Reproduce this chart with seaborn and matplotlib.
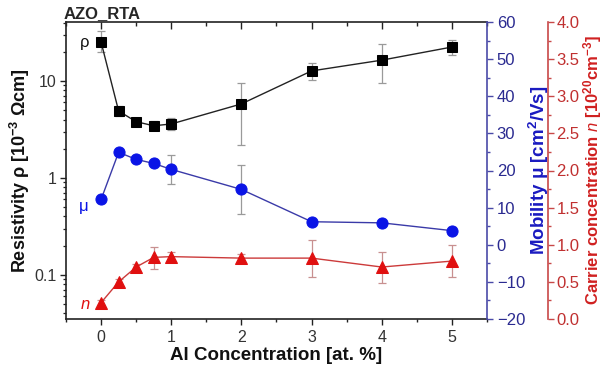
import numpy as np
import pandas as pd
import matplotlib
matplotlib.use("Agg")
import matplotlib.pyplot as plt
import seaborn as sns
from matplotlib.ticker import MultipleLocator, FixedLocator, NullFormatter

al_conc = [0, 0.25, 0.5, 0.75, 1, 2, 3, 4, 5]
resistivity = [25.2, 4.9, 3.8, 3.45, 3.6, 5.8, 12.7, 16.4, 22.4]
res_err_lo = [5.3, 0.5, 0.3, 0.35, 0.5, 3.6, 2.5, 6.9, 3.9]
res_err_hi = [7.5, 0.6, 0.3, 0.4, 0.55, 3.7, 2.6, 7.6, 4.1]
mobility = [12.2, 24.9, 23.0, 21.9, 20.3, 14.9, 6.2, 5.9, 3.8]
mob_err = [0.5, 0.5, 0.5, 0.5, 3.9, 6.5, 0.8, 0.8, 1.0]
carrier = [0.22, 0.50, 0.70, 0.83, 0.84, 0.82, 0.82, 0.70, 0.78]
car_err_lo = [0.03, 0.04, 0.04, 0.15, 0.06, 0.05, 0.25, 0.21, 0.21]
car_err_hi = [0.03, 0.04, 0.04, 0.14, 0.06, 0.05, 0.25, 0.20, 0.22]

sns.set_style("ticks")
plt.rcParams['font.family'] = ['Liberation Sans', 'DejaVu Sans']
plt.rcParams['mathtext.fontset'] = 'custom'
plt.rcParams['mathtext.rm'] = 'Liberation Sans'
plt.rcParams['mathtext.it'] = 'Liberation Sans:italic'
plt.rcParams['mathtext.bf'] = 'Liberation Sans:bold'

df = pd.DataFrame({"x": al_conc, "rho": resistivity, "mu": mobility, "n": carrier})

fig = plt.figure(figsize=(6.08, 3.68), dpi=100)
ax = fig.add_axes([66/608, 1-319/368, (487-66)/608, (319-22)/368])
ax2 = ax.twinx()
ax3 = ax.twinx()

black = "#000000"
blue = "#0a14e6"
blue_line = "#3a3aa8"
blue_axis = "#4a4aa8"
red = "#e01010"
red_line = "#cc3a3a"
red_axis = "#c84848"
errc = "#9a9a9a"

# Resistivity
ax.errorbar(al_conc, resistivity, yerr=[res_err_lo, res_err_hi], fmt='none',
            ecolor=errc, elinewidth=0.9, capsize=3, capthick=0.9, zorder=2)
sns.lineplot(data=df, x="x", y="rho", ax=ax, color="#222222", lw=1.0,
             marker='s', markersize=7.2, markerfacecolor=black, markeredgecolor=black, zorder=3)
ax.set_yscale('log')
ax.set_ylim(0.035, 40.6)
ax.set_xlim(-0.5, 5.5)

# Mobility
ax2.errorbar(al_conc, mobility, yerr=mob_err, fmt='none',
             ecolor=errc, elinewidth=0.9, capsize=3, capthick=0.9, zorder=2)
sns.lineplot(data=df, x="x", y="mu", ax=ax2, color=blue_line, lw=1.0,
             marker='o', markersize=8, markerfacecolor=blue, markeredgecolor=blue, zorder=3)
ax2.set_ylim(-20, 60)

# Carrier concentration
ax3.errorbar(al_conc, carrier, yerr=[car_err_lo, car_err_hi], fmt='none',
             ecolor="#c89090", elinewidth=0.9, capsize=3, capthick=0.9, zorder=2)
sns.lineplot(data=df, x="x", y="n", ax=ax3, color=red_line, lw=1.0,
             marker='^', markersize=8.5, markerfacecolor=red, markeredgecolor=red, zorder=3)
ax3.set_ylim(0, 4.0)
ax3.spines['right'].set_position(('axes', 1.145))

# Spines
for a in (ax, ax2, ax3):
    a.set_xlabel("")
    a.set_ylabel("")
for s in ['top', 'left', 'bottom']:
    ax.spines[s].set_visible(True)
    ax.spines[s].set_color('#222222')
    ax.spines[s].set_linewidth(1.2)
ax.spines['right'].set_visible(False)
for s in ['top', 'left', 'bottom']:
    ax2.spines[s].set_visible(False)
    ax3.spines[s].set_visible(False)
ax2.spines['right'].set_visible(True)
ax2.spines['right'].set_color(blue_axis)
ax2.spines['right'].set_linewidth(1.2)
ax3.spines['right'].set_visible(True)
ax3.spines['right'].set_color(red_axis)
ax3.spines['right'].set_linewidth(1.2)

# X ticks (bottom outward, top inward)
ax.set_xticks([0, 1, 2, 3, 4, 5])
ax.xaxis.set_minor_locator(MultipleLocator(0.5))
ax.tick_params(axis='x', which='both', direction='out', top=False, bottom=True,
               labelsize=11.5, labelcolor='#333333', color='#222222', pad=4)
ax.tick_params(axis='x', which='major', length=4, width=1)
ax.tick_params(axis='x', which='minor', length=2.5, width=1)
sec = ax.secondary_xaxis('top')
sec.set_xticks([0, 1, 2, 3, 4, 5])
sec.xaxis.set_minor_locator(MultipleLocator(0.5))
sec.tick_params(axis='x', which='both', direction='in', labeltop=False, color='#222222')
sec.tick_params(axis='x', which='major', length=5, width=1)
sec.tick_params(axis='x', which='minor', length=3, width=1)
sec.spines['top'].set_visible(False)

# Left log axis
ax.yaxis.set_major_locator(FixedLocator([0.1, 1, 10]))
ax.set_yticklabels(['0.1', '1', '10'])
minor_vals = [m * 10.0**e for e in (-2, -1, 0, 1) for m in range(2, 10)]
minor_vals = [v for v in minor_vals if 0.035 <= v <= 40.6]
ax.yaxis.set_minor_locator(FixedLocator(minor_vals))
ax.yaxis.set_minor_formatter(NullFormatter())
ax.tick_params(axis='y', which='both', direction='out', left=True, labelsize=11.5,
               labelcolor='#333333', color='#222222', pad=2)
ax.tick_params(axis='y', which='major', length=4.5, width=1)
ax.tick_params(axis='y', which='minor', length=2.5, width=0.9)

# Mobility axis
ax2.set_yticks(np.arange(-20, 61, 10))
ax2.yaxis.set_minor_locator(MultipleLocator(5))
ax2.tick_params(axis='y', which='both', direction='out', labelsize=12,
                labelcolor='#2a2a90', color=blue_axis, pad=3)
ax2.tick_params(axis='y', which='major', length=4, width=1)
ax2.tick_params(axis='y', which='minor', length=2.5, width=1)

# Carrier axis
ax3.set_yticks(np.arange(0, 4.01, 0.5))
ax3.set_yticklabels([f"{v:.1f}" for v in np.arange(0, 4.01, 0.5)])
ax3.yaxis.set_minor_locator(MultipleLocator(0.25))
ax3.tick_params(axis='y', which='both', direction='out', labelsize=12,
                labelcolor='#c03030', color=red_axis, pad=2)
ax3.tick_params(axis='y', which='major', length=4, width=1)
ax3.tick_params(axis='y', which='minor', length=2.5, width=1)

# Labels
ax.set_xlabel("Al Concentration [at. %]", fontsize=13.5, fontweight='bold', labelpad=1, color='#111111')
ax.set_ylabel(r"Resistivity ρ [10$^{\mathbf{-3}}$ Ωcm]", fontsize=13, fontweight='bold', labelpad=2, color='#111111')
ax2.set_ylabel(r"Mobility μ [cm$^{\mathbf{2}}$/Vs]", fontsize=13.5, fontweight='bold', color='#1a1ac0', labelpad=1)
ax3.set_ylabel(r"Carrier concentration $\mathit{n}$ [10$^{\mathbf{20}}$cm$^{\mathbf{-3}}$]", fontsize=12,
               fontweight='bold', color='#d02020', labelpad=1)
ax.set_title("AZO_RTA", loc='left', fontsize=12, fontweight='bold', pad=3, x=-0.005)

# Series annotations
ax.text(-0.16, resistivity[0], "ρ", fontsize=12, color='#111111', ha='right', va='center')
ax2.text(-0.18, mobility[0] - 2, "μ", fontsize=12, color=blue, ha='right', va='center')
ax3.text(-0.16, carrier[0] - 0.03, "n", fontsize=12, color=red, style='italic', ha='right', va='center')

fig.savefig("out.png", dpi=100)
